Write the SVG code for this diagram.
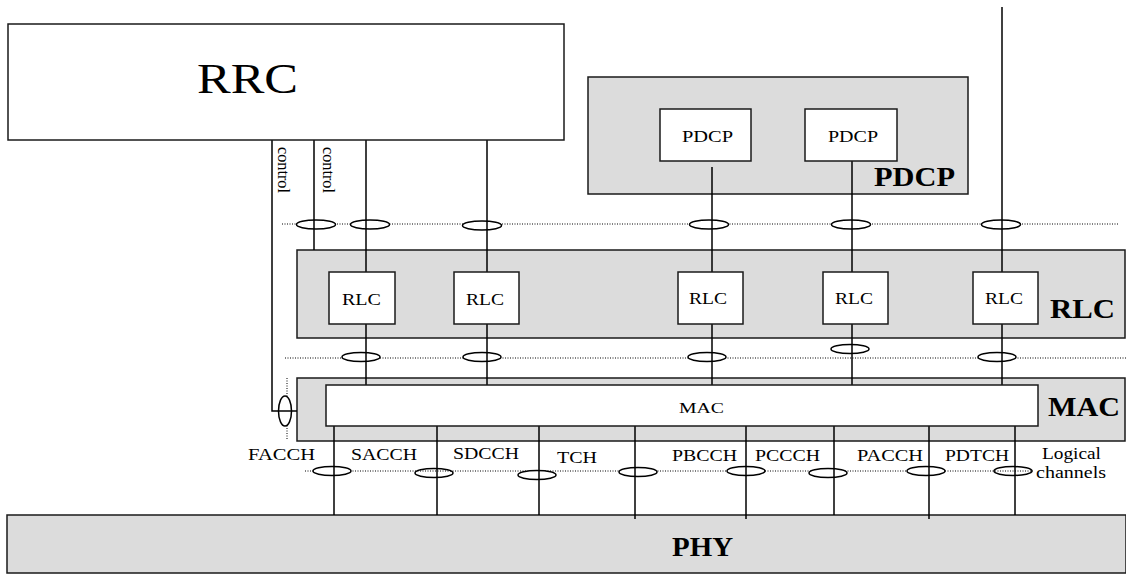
<svg xmlns="http://www.w3.org/2000/svg" width="1126" height="574" viewBox="0 0 1126 574">
<style>
.layer{fill:#dcdcdc;stroke:#1a1a1a;stroke-width:1.5}
.box{fill:#fff;stroke:#1a1a1a;stroke-width:1.5}
.ln{stroke:#000;stroke-width:1.5;fill:none}
.dot{stroke:#000;stroke-width:1;stroke-dasharray:1 1.5;fill:none}
.ell{fill:#fff;stroke:#000;stroke-width:1.5}
.ello{fill:none;stroke:#000;stroke-width:1.5}
.t{font-family:"Liberation Serif","Times New Roman",serif;fill:#000}
.s{font-size:16px}
.b{font-size:27px;font-weight:bold}
</style>
<rect width="1126" height="574" fill="#fff"/>
<g id="layers">
<rect id="pdcp-layer" class="layer" x="588" y="77" width="380" height="117"/>
<rect id="rlc-layer" class="layer" x="297" y="250" width="828" height="88"/>
<rect id="mac-layer" class="layer" x="297" y="378" width="828" height="63"/>
<rect id="phy-layer" class="layer" x="7" y="515" width="1119" height="58"/>
</g>
<g id="connectors">
<line class="dot" x1="282" y1="224" x2="1118" y2="224"/>
<line class="dot" x1="285" y1="358" x2="1126" y2="358"/>
<line class="dot" x1="305" y1="471" x2="1033" y2="471"/>
<line class="dot" x1="287" y1="378" x2="287" y2="440"/>
<ellipse class="ell" cx="316" cy="224.5" rx="19.5" ry="4.5"/>
<ellipse class="ell" cx="370" cy="224.5" rx="19.5" ry="4.5"/>
<ellipse class="ell" cx="482" cy="225.5" rx="19.5" ry="4.5"/>
<ellipse class="ell" cx="709" cy="224.5" rx="19.5" ry="4.5"/>
<ellipse class="ell" cx="851" cy="224.5" rx="19.5" ry="4.5"/>
<ellipse class="ell" cx="1001" cy="224.5" rx="19.5" ry="4.5"/>
<ellipse class="ell" cx="361" cy="357" rx="19" ry="4.5"/>
<ellipse class="ell" cx="482" cy="357" rx="19" ry="4.5"/>
<ellipse class="ell" cx="707" cy="357" rx="19" ry="4.5"/>
<ellipse class="ell" cx="850" cy="349" rx="19" ry="4.5"/>
<ellipse class="ell" cx="997" cy="357" rx="19" ry="4.5"/>
<ellipse class="ell" cx="285" cy="411" rx="6.5" ry="15"/>
<ellipse class="ell" cx="332" cy="471" rx="19" ry="4.5"/>
<ellipse class="ello" cx="434" cy="473" rx="19" ry="4.5"/>
<ellipse class="ell" cx="537" cy="475" rx="19" ry="4.5"/>
<ellipse class="ell" cx="638" cy="472" rx="19" ry="4.5"/>
<ellipse class="ell" cx="746" cy="471" rx="19" ry="4.5"/>
<ellipse class="ell" cx="828" cy="473" rx="19" ry="4.5"/>
<ellipse class="ell" cx="926" cy="471" rx="19" ry="4.5"/>
<ellipse class="ello" cx="1013" cy="471" rx="19" ry="4.5"/>
<polyline class="ln" points="272,140 272,411 297,411"/>
<line class="ln" x1="314" y1="140" x2="314" y2="250"/>
<line class="ln" x1="366" y1="140" x2="366" y2="385"/>
<line class="ln" x1="487" y1="140" x2="487" y2="385"/>
<line class="ln" x1="712" y1="167" x2="712" y2="385"/>
<line class="ln" x1="852" y1="161" x2="852" y2="385"/>
<line class="ln" x1="1002" y1="7" x2="1002" y2="385"/>
<line class="ln" x1="334" y1="426" x2="334" y2="515"/>
<line class="ln" x1="437" y1="426" x2="437" y2="515"/>
<line class="ln" x1="539" y1="426" x2="539" y2="515"/>
<line class="ln" x1="635" y1="426" x2="635" y2="519"/>
<line class="ln" x1="746" y1="426" x2="746" y2="519"/>
<line class="ln" x1="834" y1="426" x2="834" y2="515"/>
<line class="ln" x1="929" y1="426" x2="929" y2="519"/>
<line class="ln" x1="1015" y1="426" x2="1015" y2="515"/>
</g>
<g id="rrc">
<rect class="box" x="8" y="24" width="556" height="116"/>
<text class="t" x="197" y="93" font-size="42" textLength="101" lengthAdjust="spacingAndGlyphs">RRC</text>
</g>
<g id="control-labels">
<text class="t" font-size="17" transform="translate(278,147) rotate(90)" textLength="46" lengthAdjust="spacingAndGlyphs">control</text>
<text class="t" font-size="17" transform="translate(323,147) rotate(90)" textLength="46" lengthAdjust="spacingAndGlyphs">control</text>
</g>
<g id="pdcp1"><rect class="box" x="660" y="109" width="91" height="52"/>
<text class="t s" x="682" y="142" textLength="51" lengthAdjust="spacingAndGlyphs">PDCP</text></g>
<g id="pdcp2"><rect class="box" x="805" y="109" width="92" height="52"/>
<text class="t s" x="828" y="142" textLength="50" lengthAdjust="spacingAndGlyphs">PDCP</text></g>
<g id="pdcp-label"><text class="t b" x="874" y="186" textLength="81" lengthAdjust="spacingAndGlyphs">PDCP</text></g>
<g id="rlc1"><rect class="box" x="329" y="272" width="66" height="52"/>
<text class="t s" x="342" y="305" textLength="39" lengthAdjust="spacingAndGlyphs">RLC</text></g>
<g id="rlc2"><rect class="box" x="454" y="272" width="65" height="52"/>
<text class="t s" x="466" y="305" textLength="38" lengthAdjust="spacingAndGlyphs">RLC</text></g>
<g id="rlc3"><rect class="box" x="678" y="272" width="65" height="52"/>
<text class="t s" x="689" y="304" textLength="38" lengthAdjust="spacingAndGlyphs">RLC</text></g>
<g id="rlc4"><rect class="box" x="823" y="272" width="65" height="52"/>
<text class="t s" x="835" y="304" textLength="38" lengthAdjust="spacingAndGlyphs">RLC</text></g>
<g id="rlc5"><rect class="box" x="973" y="272" width="65" height="52"/>
<text class="t s" x="985" y="304" textLength="38" lengthAdjust="spacingAndGlyphs">RLC</text></g>
<g id="rlc-label"><text class="t b" x="1050" y="318" textLength="65" lengthAdjust="spacingAndGlyphs">RLC</text></g>
<g id="mac"><rect class="box" x="326" y="385" width="712" height="41"/>
<text class="t" font-size="15" x="679" y="413" textLength="45" lengthAdjust="spacingAndGlyphs">MAC</text></g>
<g id="mac-label"><text class="t b" x="1048" y="416" textLength="72" lengthAdjust="spacingAndGlyphs">MAC</text></g>
<g id="phy-label"><text class="t b" x="672" y="556" textLength="61" lengthAdjust="spacingAndGlyphs">PHY</text></g>
<g id="channel-labels">
<text class="t s" x="248" y="460" textLength="67" lengthAdjust="spacingAndGlyphs">FACCH</text>
<text class="t s" x="351" y="460" textLength="66" lengthAdjust="spacingAndGlyphs">SACCH</text>
<text class="t s" x="453" y="459" textLength="66" lengthAdjust="spacingAndGlyphs">SDCCH</text>
<text class="t s" x="557" y="463" textLength="40" lengthAdjust="spacingAndGlyphs">TCH</text>
<text class="t s" x="672" y="461" textLength="65" lengthAdjust="spacingAndGlyphs">PBCCH</text>
<text class="t s" x="755" y="461" textLength="65" lengthAdjust="spacingAndGlyphs">PCCCH</text>
<text class="t s" x="857" y="461" textLength="66" lengthAdjust="spacingAndGlyphs">PACCH</text>
<text class="t s" x="945" y="461" textLength="64" lengthAdjust="spacingAndGlyphs">PDTCH</text>
<text class="t s" x="1042" y="459" textLength="59" lengthAdjust="spacingAndGlyphs">Logical</text>
<text class="t s" x="1036" y="478" textLength="70" lengthAdjust="spacingAndGlyphs">channels</text>
</g>
</svg>
